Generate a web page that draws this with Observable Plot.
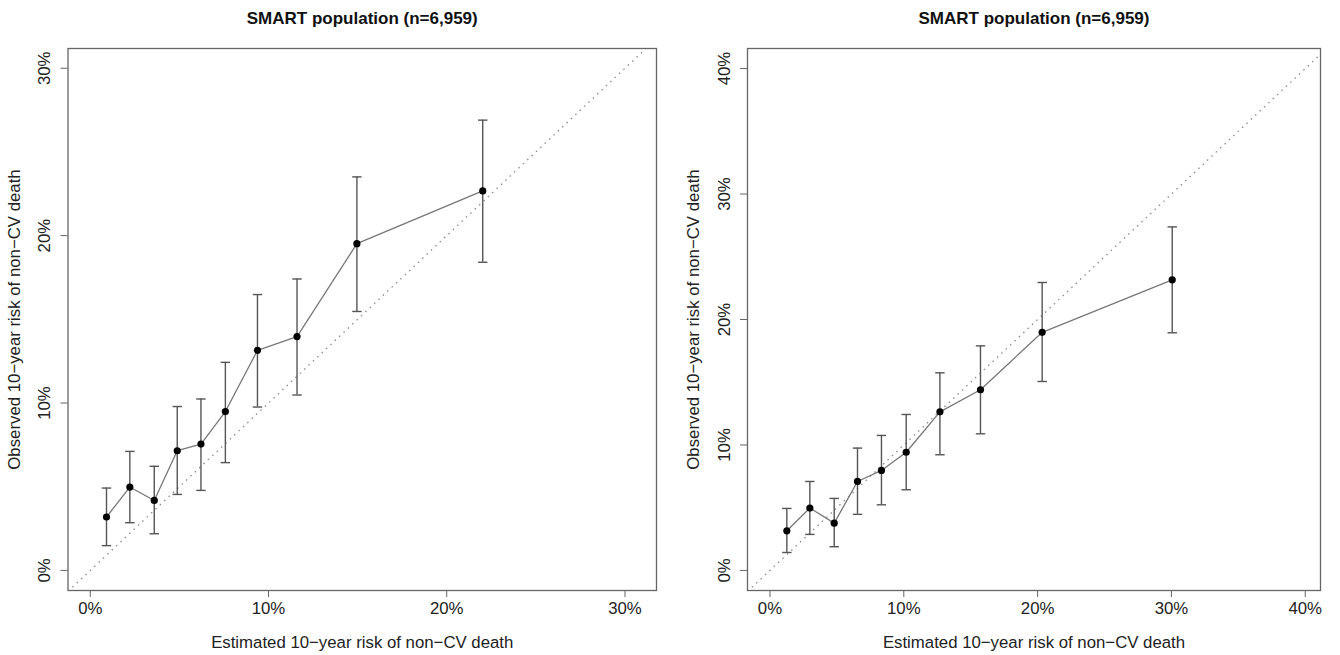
<!DOCTYPE html>
<html><head><meta charset="utf-8">
<script src="https://cdn.jsdelivr.net/npm/d3@7"></script>
<script src="https://cdn.jsdelivr.net/npm/@observablehq/plot@0.6"></script>
<style>
html,body{margin:0;padding:0;background:#fff;}
#wrap{display:flex;width:1340px;height:655px;overflow:hidden;}
#wrap svg{display:block;}
</style></head><body><div id="wrap"></div>
<script>
const panelTitle = "SMART population (n=6,959)";
const xLabel = "Estimated 10\u2212year risk of non\u2212CV death";
const yLabel = "Observed 10\u2212year risk of non\u2212CV death";

// Left panel (values in %)
const leftEstimated = [0.91, 2.22, 3.59, 4.88, 6.21, 7.58, 9.38, 11.6, 14.96, 22.02];
const leftObserved  = [3.19, 4.98, 4.18, 7.15, 7.55, 9.49, 13.15, 13.97, 19.52, 22.67];
const leftLower     = [1.48, 2.85, 2.19, 4.54, 4.78, 6.44, 9.76, 10.48, 15.47, 18.41];
const leftUpper     = [4.92, 7.11, 6.22, 9.79, 10.24, 12.43, 16.48, 17.41, 23.51, 26.9];
const leftTicks = [0, 10, 20, 30];

// Right panel (values in %)
const rightEstimated = [1.26, 2.98, 4.80, 6.54, 8.33, 10.18, 12.7, 15.73, 20.34, 30.06];
const rightObserved  = [3.16, 4.97, 3.77, 7.09, 7.97, 9.42, 12.64, 14.4, 18.98, 23.16];
const rightLower     = [1.43, 2.87, 1.89, 4.47, 5.23, 6.43, 9.22, 10.89, 15.06, 18.94];
const rightUpper     = [4.94, 7.09, 5.74, 9.75, 10.76, 12.43, 15.75, 17.9, 22.95, 27.38];
const rightTicks = [0, 10, 20, 30, 40];

const capSymbol = {
  draw(ctx, size) {
    const w = Math.sqrt(size / Math.PI);
    ctx.moveTo(-w, 0);
    ctx.lineTo(w, 0);
  }
};

function panel({est, obs, lo, hi, ticks, xDomain, yDomain, marginLeft, marginRight}) {
  const rows = est.map((e, i) => ({est: e, obs: obs[i], lo: lo[i], hi: hi[i]}));
  const dLo = Math.min(xDomain[0], yDomain[0]);
  const dHi = Math.max(xDomain[1], yDomain[1]);
  const diag = [{a: dLo, b: dHi}];
  return Plot.plot({
    width: 670,
    height: 655,
    marginLeft,
    marginRight,
    marginTop: 48,
    marginBottom: 65,
    x: {domain: xDomain},
    y: {domain: yDomain},
    style: {fontFamily: "'Liberation Sans', Arial, sans-serif", fontSize: "16.8px", color: "#222", background: "white"},
    marks: [
      Plot.link(diag, {x1: "a", y1: "a", x2: "b", y2: "b", stroke: "#8a8a8a", strokeWidth: 1.3, strokeDasharray: "1.5,4.5", clip: true}),
      Plot.frame({stroke: "#666", strokeWidth: 1.3}),
      Plot.axisX({ticks, tickSize: 7, tickPadding: 5, stroke: "#666", fill: "#222", tickFormat: d => d + "%",
        label: xLabel, labelAnchor: "center", labelArrow: "none", labelOffset: 57}),
      Plot.axisY({ticks, tickSize: 7, tickPadding: 11, tickRotate: -90, stroke: "#666", fill: "#222", tickFormat: d => d + "%",
        label: yLabel, labelAnchor: "center", labelArrow: "none", labelOffset: 60}),
      Plot.ruleX(rows, {x: "est", y1: "lo", y2: "hi", stroke: "#555", strokeWidth: 1.4}),
      Plot.dot(rows, {x: "est", y: "lo", symbol: capSymbol, r: 4.7, stroke: "#555", strokeWidth: 1.4, fill: "none"}),
      Plot.dot(rows, {x: "est", y: "hi", symbol: capSymbol, r: 4.7, stroke: "#555", strokeWidth: 1.4, fill: "none"}),
      Plot.line(rows, {x: "est", y: "obs", stroke: "#777", strokeWidth: 1.3}),
      Plot.dot(rows, {x: "est", y: "obs", fill: "black", r: 3.6}),
      Plot.text([panelTitle], {text: d => d, frameAnchor: "top", dy: -37, fontWeight: "bold", fontSize: 17, fill: "#111"})
    ]
  });
}

const wrap = document.getElementById("wrap");
wrap.appendChild(panel({
  est: leftEstimated, obs: leftObserved, lo: leftLower, hi: leftUpper, ticks: leftTicks,
  xDomain: [-1.25, 31.77], yDomain: [-1.2, 31.18], marginLeft: 67.5, marginRight: 14
}));
wrap.appendChild(panel({
  est: rightEstimated, obs: rightObserved, lo: rightLower, hi: rightUpper, ticks: rightTicks,
  xDomain: [-1.68, 41.14], yDomain: [-1.6, 41.6], marginLeft: 77, marginRight: 20
}));
</script>
</body></html>
